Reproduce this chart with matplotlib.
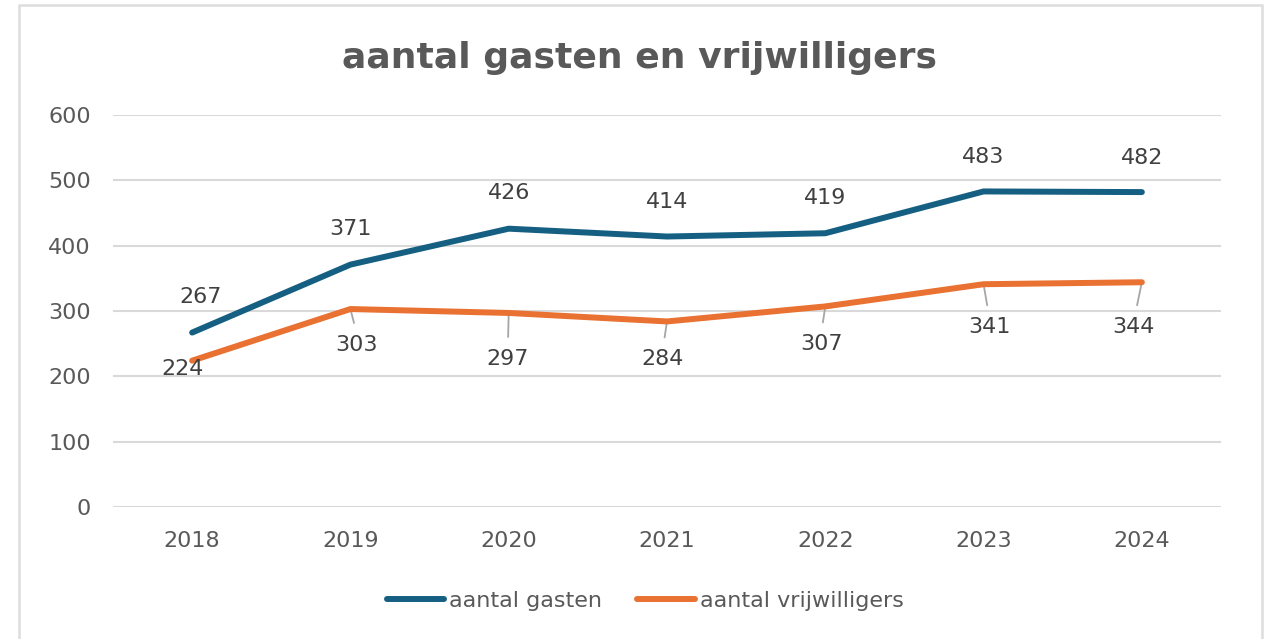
import matplotlib
matplotlib.use("Agg")
import matplotlib.pyplot as plt
from matplotlib.patches import Rectangle

years = ["2018", "2019", "2020", "2021", "2022", "2023", "2024"]
gasten = [267, 371, 426, 414, 419, 483, 482]
vrijwilligers = [224, 303, 297, 284, 307, 341, 344]
yticks = [0, 100, 200, 300, 400, 500, 600]
title = "aantal gasten en vrijwilligers"
series_names = ["aantal gasten", "aantal vrijwilligers"]

# layout: label offsets in pixels
g_off = [(8, 36), (0, 36), (0, 36), (0, 35), (0, 35), (0, 34), (0, 34)]
v_off = [(-10, -8), (6, -36), (-1, -46), (-4, -38), (-4, -38), (6, -43), (-8, -45)]

BLUE = "#156082"
ORANGE = "#E97132"
TXT = "#595959"
LBL = "#404040"
GRID = "#D9D9D9"
FONT = "DejaVu Sans"

fig = plt.figure(figsize=(12.71, 6.39), dpi=100)
fig.patch.set_facecolor("white")
fig.patches.append(Rectangle((19 / 1271, -0.05), (1262 - 19) / 1271, 1.05 - 5 / 639,
                             transform=fig.transFigure, fill=False,
                             edgecolor="#DDDDDD", lw=1.8, zorder=0))

ax = fig.add_axes([113 / 1271, 1 - 507 / 639, (1221 - 113) / 1271, (507 - 115) / 639])
x = list(range(len(years)))
ax.plot(x, gasten, color=BLUE, lw=4.3, solid_capstyle="round", solid_joinstyle="round",
        label=series_names[0], zorder=3)
ax.plot(x, vrijwilligers, color=ORANGE, lw=4.3, solid_capstyle="round", solid_joinstyle="round",
        label=series_names[1], zorder=3)

ax.set_xlim(-0.5, len(years) - 0.5)
ax.set_ylim(0, 600)
ax.set_yticks(yticks)
ax.set_xticks(x)
ax.set_xticklabels(years)
ax.tick_params(axis="both", length=0, labelsize=16, labelcolor=TXT)
ax.tick_params(axis="y", pad=16)
ax.tick_params(axis="x", pad=17)
for lab in ax.get_xticklabels() + ax.get_yticklabels():
    lab.set_fontfamily(FONT)
ax.grid(axis="y", color=GRID, lw=1.5, zorder=0)
ax.set_axisbelow(True)
for s in ax.spines.values():
    s.set_visible(False)

for i, v in enumerate(gasten):
    ax.annotate(str(v), (i, v), xytext=g_off[i], textcoords="offset pixels",
                ha="center", va="center", fontsize=16, color=LBL, family=FONT, zorder=4)
for i, v in enumerate(vrijwilligers):
    dx, dy = v_off[i]
    ax.annotate(str(v), (i, v), xytext=(dx, dy), textcoords="offset pixels",
                ha="center", va="center", fontsize=16, color=LBL, family=FONT, zorder=4)
    if abs(dy) > 20:
        ax.annotate("", (i, v), xytext=(dx * 0.6, dy + 22), textcoords="offset pixels",
                    arrowprops=dict(arrowstyle="-", color="#A6A6A6", lw=1.3,
                                    shrinkA=0, shrinkB=0), zorder=2)

fig.text(640 / 1271, 1 - 58 / 639, title, ha="center", va="center", fontsize=26,
         fontweight="bold", color=TXT, family=FONT)

leg = fig.legend(loc="center", bbox_to_anchor=(645 / 1271, 1 - 601 / 639), ncol=2,
                 frameon=False, prop={"family": FONT, "size": 16}, handlelength=2.6,
                 handletextpad=0.2, columnspacing=1.6, labelcolor=TXT)
for h in leg.get_lines():
    h.set_solid_capstyle("round")
    h.set_linewidth(4.3)

fig.savefig("out.png", dpi=100)
